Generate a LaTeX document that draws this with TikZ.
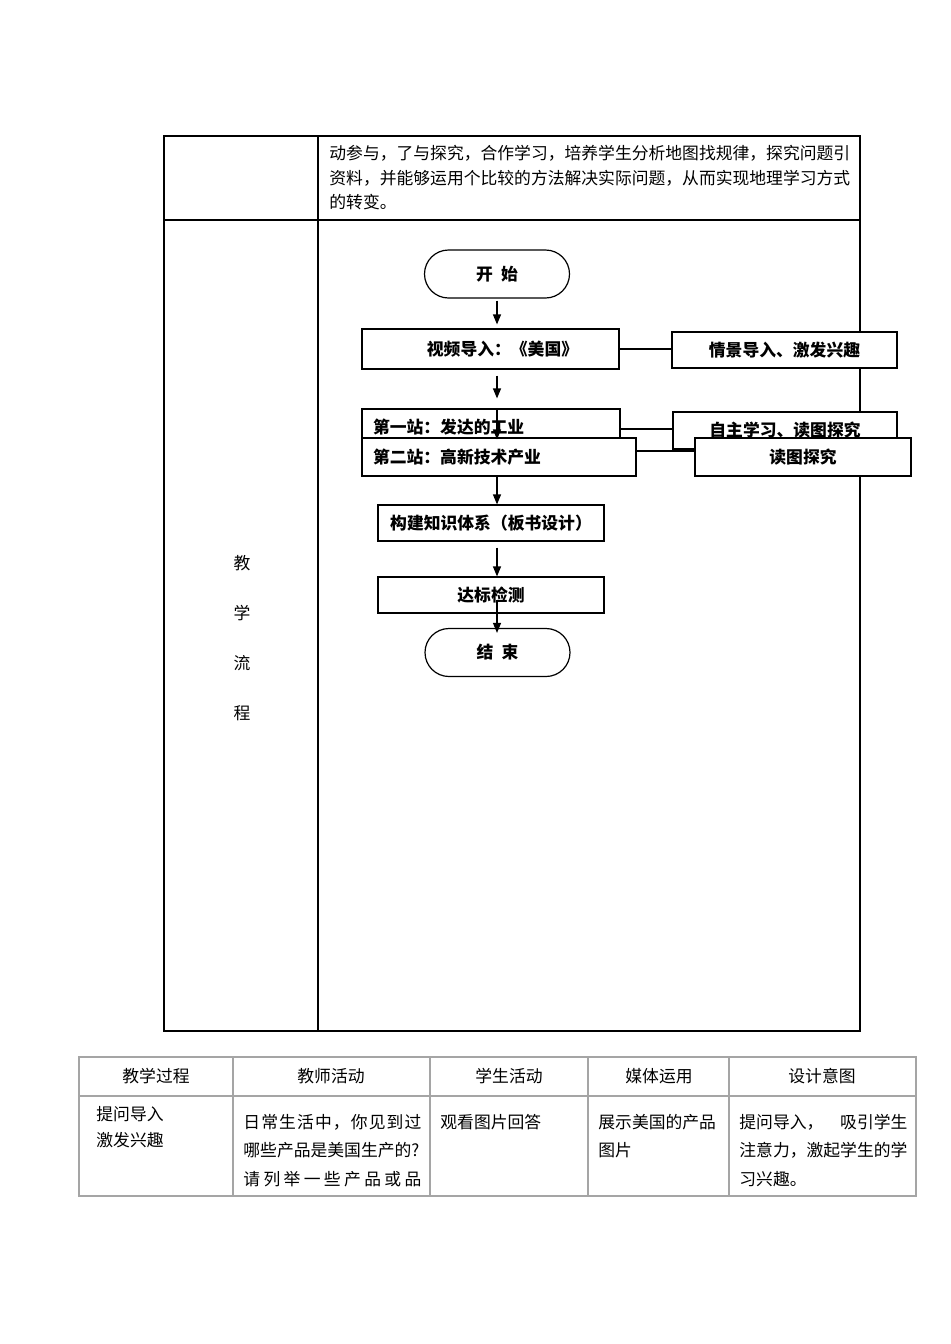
\documentclass[tikz,border=0pt]{standalone}
\usepackage{fontspec}
\setmainfont{Noto Sans CJK SC}
\usetikzlibrary{arrows.meta}

\newlength{\pxu}\setlength{\pxu}{0.5pt}
\definecolor{gridgray}{RGB}{165,165,165}

\tikzset{
  cell/.style={anchor=west, inner sep=0pt, font=\fontsize{8.4pt}{10pt}\selectfont},
  tbl/.style={line width=0.6pt},
  grid/.style={gridgray, line width=0.7pt},
  boxnode/.style={draw, fill=white, line width=0.6pt, inner sep=0pt,
    font=\bfseries\fontsize{8.4pt}{10pt}\selectfont},
  leftbox/.style={boxnode, align=left, inner xsep=11\pxu},
  term/.style={boxnode, rounded corners=24\pxu, minimum width=145\pxu, minimum height=48\pxu},
  flow/.style={-{Triangle[length=5pt,width=4pt]}, line width=0.6pt},
}

\begin{document}
\begin{tikzpicture}[x=\pxu, y=-\pxu]
      \useasboundingbox (0,0) rectangle (950,1344);

      % upper table
      \draw[tbl] (164,136) rectangle (860,1031);
      \draw[tbl] (318,136) -- (318,1031);
      \draw[tbl] (164,220) -- (860,220);

      \node[cell](aim1) at (329,153){动参与，了与探究，合作学习，培养学生分析地图找规律，探究问题引};
      \node[cell](aim2) at (329,178){资料，并能够运用个比较的方法解决实际问题，从而实现地理学习方式};
      \node[cell](aim3) at (329,202){的转变。};

      \foreach \ch [count=\i] in {教,学,流,程} {
        \node[cell, anchor=center](title\i) at (242, 513 + 50*\i){\ch};
      }

      % flow chart
      \node[term](start) at (497,274){开\hspace{0.5em}始};
      \node[boxnode, minimum width=257\pxu, minimum height=40\pxu](video) at (490.5,349){\hspace*{24\pxu}视频导入：《美国》};
      \node[boxnode, minimum width=225\pxu, minimum height=36\pxu](info1) at (784.5,350){情景导入、激发兴趣};
      \node[leftbox, text width=236\pxu, minimum height=36\pxu](s1) at (491,427){第一站：发达的工业};
      \node[boxnode, minimum width=224\pxu, minimum height=37\pxu](info2) at (785,430.5){\raisebox{1.5\pxu}{自主学习、读图探究}};
      \node[leftbox, text width=252\pxu, minimum height=38\pxu](s2) at (499,457){第二站：高新技术产业};
      \node[boxnode, minimum width=216\pxu, minimum height=38\pxu](info3) at (803,457){读图探究};
      \node[boxnode, minimum width=226\pxu, minimum height=36\pxu](build) at (491,523){构建知识体系（板书设计）};
      \node[boxnode, minimum width=226\pxu, minimum height=36\pxu](test) at (491,595){达标检测};
      \node[term](end) at (497.5,652.5){结\hspace{0.5em}束};

      \draw[flow, shorten <=2\pxu, shorten >=4\pxu] (start.south) -- (start |- video.north);
      \draw[flow, shorten <=6\pxu, shorten >=10\pxu] (start |- video.south) -- (start |- s1.north);
      \draw[flow, shorten >=-2\pxu] (start |- s1.north) -- (start |- s2.north);
      \draw[flow] (start |- s2.south) -- (start |- build.north);
      \draw[flow, shorten <=6\pxu] (start |- build.south) -- (start |- test.north);
      \draw[flow, shorten <=5\pxu, shorten >=-5\pxu] (start |- test.center) -- (start |- end.north);

      \coordinate (s1r) at ([yshift=-2\pxu]s1.east);
      \coordinate (s2r) at ([yshift=6\pxu]s2.east);
      \draw[tbl] (video.east) -- (video.east -| info1.west);
      \draw[tbl] (s1r) -- (s1r -| info2.west);
      \draw[tbl] (s2r) -- (s2r -| info3.west);

      % lower table
      \draw[grid] (79,1057) rectangle (916,1196);
      \draw[grid] (79,1096) -- (916,1096);
      \foreach \x in {233,430,588,729} {
        \draw[grid] (\x,1057) -- (\x,1196);
      }

      \foreach \x/\t [count=\i] in {156/教学过程,331/教师活动,509/学生活动,659/媒体运用,822/设计意图} {
        \node[cell, anchor=center](head\i) at (\x,1076){\t};
      }

      \node[cell](step1) at (96,1114){提问导入};
      \node[cell](step2) at (96,1140){激发兴趣};
      \node[cell](teach1) at (243,1122){\makebox[178\pxu][l]{日\hfill 常\hfill 生\hfill 活\hfill 中\hfill ，\hfill 你\hfill 见\hfill 到\hfill 过}};
      \node[cell](teach2) at (243,1150){哪些产品是美国生产的?};
      \node[cell](teach3) at (243,1179){\makebox[178\pxu][l]{请\hfill 列\hfill 举\hfill 一\hfill 些\hfill 产\hfill 品\hfill 或\hfill 品}};
      \node[cell](learn1) at (440,1122){观看图片回答};
      \node[cell](media1) at (598,1122){展示美国的产品};
      \node[cell](media2) at (598,1150){图片};
      \node[cell](goal1) at (739,1122){\makebox[168\pxu][l]{提问导入，\hfill 吸引学生}};
      \node[cell](goal2) at (739,1150){注意力，激起学生的学};
      \node[cell](goal3) at (739,1179){习兴趣。};
\end{tikzpicture}
\end{document}
